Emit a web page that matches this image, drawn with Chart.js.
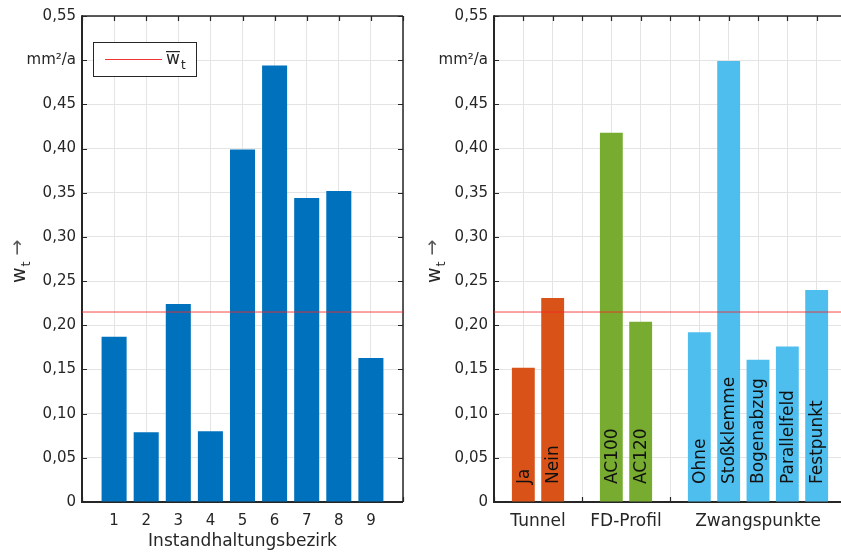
<!DOCTYPE html>
<html>
<head>
<meta charset="utf-8">
<script src="https://cdn.jsdelivr.net/npm/chart.js@4/dist/chart.umd.min.js"></script>
<style>
  html, body { margin: 0; padding: 0; background: #fff; overflow: hidden; }
  #wrap { position: relative; width: 841px; height: 553px; overflow: hidden; }
  #leftChart { position: absolute; left: 0; top: 0; }
  #rightChart { position: absolute; left: 415px; top: 0; }
</style>
</head>
<body>
<div id="wrap">
  <canvas id="leftChart" width="415" height="553"></canvas>
  <canvas id="rightChart" width="441" height="553"></canvas>
</div>
<script>
// mean wear rate, drawn as the red reference line in both panels
var meanValue = 0.215;

// left panel: wear rate per maintenance district
var districtLabels = ['1', '2', '3', '4', '5', '6', '7', '8', '9'];
var districtValues = [0.187, 0.079, 0.224, 0.080, 0.399, 0.494, 0.344, 0.352, 0.163];

// right panel: wear rate per feature, grouped
var groupNames = ['Tunnel', 'FD-Profil', 'Zwangspunkte'];
var groupColors = ['#D95319', '#77AC30', '#4DBEEE'];
var featureLabels = ['Ja', 'Nein', 'AC100', 'AC120', 'Ohne', 'Stoßklemme', 'Bogenabzug', 'Parallelfeld', 'Festpunkt'];
var featureGroup = [0, 0, 1, 1, 2, 2, 2, 2, 2];
var featureValues = [0.152, 0.231, 0.418, 0.204, 0.192, 0.499, 0.161, 0.176, 0.240];

var yTicks = { min: 0, max: 0.55, step: 0.05 };

var textColor = '#262626';
var gridColor = '#e4e4e4';
var tickFont = { family: 'DejaVu Sans', size: 15 };

// slot positions on the x axis, one empty slot between groups
var featureX = [];
(function () {
  var pos = 0, last = null;
  for (var i = 0; i < featureGroup.length; i++) {
    if (last !== null && featureGroup[i] !== last) pos++;
    pos++;
    featureX.push(pos);
    last = featureGroup[i];
  }
})();
var rightMax = featureX[featureX.length - 1] + 1;

function yLabel(v) {
  var k = Math.round(v * 100);
  if (k === 50) return 'mm\u00B2/a';
  if (k === 0) return '0';
  return (k / 100).toFixed(2).replace('.', ',');
}

// box around the axes with inward tick marks
var framePlugin = {
  id: 'frame',
  beforeDatasetsDraw: function (chart) {
    var ctx = chart.ctx, a = chart.chartArea;
    var xs = chart.scales.x, ys = chart.scales.y;
    ctx.save();
    ctx.strokeStyle = textColor;
    ctx.lineWidth = 1.2;
    ys.ticks.forEach(function (t) {
      var y = Math.round(ys.getPixelForValue(t.value)) + 0.5;
      ctx.beginPath();
      ctx.moveTo(a.left, y); ctx.lineTo(a.left + 5, y);
      ctx.moveTo(a.right, y); ctx.lineTo(a.right - 5, y);
      ctx.stroke();
    });
    xs.ticks.forEach(function (t) {
      var x = Math.round(xs.getPixelForValue(t.value)) + 0.5;
      ctx.beginPath();
      ctx.moveTo(x, a.top); ctx.lineTo(x, a.top + 5);
      ctx.moveTo(x, a.bottom); ctx.lineTo(x, a.bottom - 5);
      ctx.stroke();
    });
    ctx.lineWidth = 1.5;
    ctx.beginPath();
    ctx.moveTo(a.left, a.top); ctx.lineTo(a.right, a.top);
    ctx.moveTo(a.right, a.top); ctx.lineTo(a.right, a.bottom);
    ctx.stroke();
    ctx.lineWidth = 2;
    ctx.beginPath();
    ctx.moveTo(a.left, a.top - 0.7); ctx.lineTo(a.left, a.bottom);
    ctx.lineTo(a.right, a.bottom);
    ctx.stroke();
    ctx.restore();
  }
};

// rotated y title: w with subscript t and an arrow
var yTitlePlugin = {
  id: 'yTitle',
  afterDraw: function (chart, args, opts) {
    var ctx = chart.ctx, a = chart.chartArea;
    ctx.save();
    ctx.translate(opts.x, (a.top + a.bottom) / 2 + 24);
    ctx.rotate(-Math.PI / 2);
    ctx.fillStyle = textColor;
    ctx.textBaseline = 'alphabetic';
    ctx.textAlign = 'left';
    ctx.font = '19px DejaVu Sans';
    ctx.fillText('w', 0, 0);
    var w = ctx.measureText('w').width;
    ctx.font = '13px DejaVu Sans';
    ctx.fillText('t', w + 1, 5);
    ctx.font = '19px DejaVu Sans';
    ctx.fillStyle = '#555';
    ctx.fillText('\u2192', w + 12, -2);
    ctx.restore();
  }
};

function baseOptions(yWidth, padRight, xMax) {
  return {
    responsive: false,
    animation: false,
    layout: { padding: { top: 16, right: padRight, left: 0, bottom: 0 } },
    plugins: { legend: { display: false }, tooltip: { enabled: false } },
    scales: {
      x: {
        type: 'linear', min: 0, max: xMax, offset: false,
        grid: { color: gridColor, drawTicks: false, offset: false },
        border: { display: false },
        ticks: { stepSize: 1, color: textColor, font: tickFont, padding: 10, maxRotation: 0, autoSkip: false },
        afterFit: function (s) { s.height = 51; }
      },
      y: {
        min: yTicks.min, max: yTicks.max,
        grid: { color: gridColor, drawTicks: false },
        border: { display: false },
        ticks: { stepSize: yTicks.step, color: textColor, font: tickFont, padding: 6, callback: yLabel },
        afterFit: function (s) { s.width = yWidth; }
      }
    }
  };
}

// ---- left panel ----
var leftOpts = baseOptions(82, 12, districtLabels.length + 1);
leftOpts.scales.x.ticks.callback = function (v) {
  return districtLabels[v - 1] || '';
};
leftOpts.scales.x.title = {
  display: true, text: 'Instandhaltungsbezirk', color: textColor,
  font: { family: 'DejaVu Sans', size: 17 }, padding: { top: 0, bottom: 1 }
};
leftOpts.plugins.yTitle = { x: 25 };
leftOpts.plugins.meanLegend = {};

var legendPlugin = {
  id: 'meanLegend',
  afterDraw: function (chart) {
    var ctx = chart.ctx, a = chart.chartArea;
    var bx = a.left + 11, by = a.top + 26, bw = 103, bh = 34;
    ctx.save();
    ctx.fillStyle = '#fff';
    ctx.fillRect(bx, by, bw, bh);
    ctx.strokeStyle = textColor;
    ctx.lineWidth = 1;
    ctx.strokeRect(bx + 0.5, by + 0.5, bw, bh);
    ctx.strokeStyle = 'rgba(240,30,30,0.9)';
    ctx.beginPath();
    ctx.moveTo(bx + 12, by + 17.5); ctx.lineTo(bx + 69, by + 17.5);
    ctx.stroke();
    ctx.fillStyle = textColor;
    ctx.font = '17px DejaVu Sans';
    ctx.textBaseline = 'alphabetic';
    ctx.fillText('w', bx + 73, by + 22);
    var w = ctx.measureText('w').width;
    ctx.fillRect(bx + 73, by + 9, w, 1.2);
    ctx.font = '12px DejaVu Sans';
    ctx.fillText('t', bx + 74 + w, by + 27);
    ctx.restore();
  }
};

new Chart(document.getElementById('leftChart').getContext('2d'), {
  type: 'bar',
  data: {
    datasets: [{
      type: 'line',
      data: [{ x: 0, y: meanValue }, { x: districtLabels.length + 1, y: meanValue }],
      borderColor: 'rgba(245,40,40,0.85)', borderWidth: 1, pointRadius: 0, order: 0
    }, {
      data: districtValues.map(function (v, i) { return { x: i + 1, y: v }; }),
      backgroundColor: '#0072BD', borderWidth: 0,
      barPercentage: 0.78, categoryPercentage: 1, order: 1
    }]
  },
  options: leftOpts,
  plugins: [framePlugin, yTitlePlugin, legendPlugin]
});

// ---- right panel ----
var rightOpts = baseOptions(79, 8, rightMax);
rightOpts.scales.x.ticks.callback = function () { return ''; };
rightOpts.plugins.yTitle = { x: 440 - 415 };

// group names under the axis and rotated names inside the bars
var barTextPlugin = {
  id: 'barText',
  afterDatasetsDraw: function (chart) {
    var ctx = chart.ctx, xs = chart.scales.x, a = chart.chartArea;
    var meta = chart.getDatasetMeta(1);
    ctx.save();
    ctx.fillStyle = '#111';
    ctx.font = '17px DejaVu Sans';
    ctx.textBaseline = 'middle';
    ctx.textAlign = 'left';
    meta.data.forEach(function (bar, i) {
      ctx.save();
      ctx.translate(bar.x + 1, a.bottom - 18);
      ctx.rotate(-Math.PI / 2);
      ctx.fillText(featureLabels[i], 0, 0);
      ctx.restore();
    });
    ctx.fillStyle = textColor;
    ctx.textAlign = 'center';
    groupNames.forEach(function (name, g) {
      var xsIn = featureX.filter(function (x, i) { return featureGroup[i] === g; });
      var mid = (xsIn[0] + xsIn[xsIn.length - 1]) / 2;
      ctx.fillText(name, xs.getPixelForValue(mid), a.bottom + 20);
    });
    ctx.restore();
  }
};

new Chart(document.getElementById('rightChart').getContext('2d'), {
  type: 'bar',
  data: {
    datasets: [{
      type: 'line',
      data: [{ x: 0, y: meanValue }, { x: rightMax, y: meanValue }],
      borderColor: 'rgba(245,40,40,0.85)', borderWidth: 1, pointRadius: 0, order: 0
    }, {
      data: featureValues.map(function (v, i) { return { x: featureX[i], y: v }; }),
      backgroundColor: featureGroup.map(function (g) { return groupColors[g]; }),
      borderWidth: 0,
      barPercentage: 0.78, categoryPercentage: 1, order: 1
    }]
  },
  options: rightOpts,
  plugins: [framePlugin, yTitlePlugin, barTextPlugin]
});
</script>
</body>
</html>
